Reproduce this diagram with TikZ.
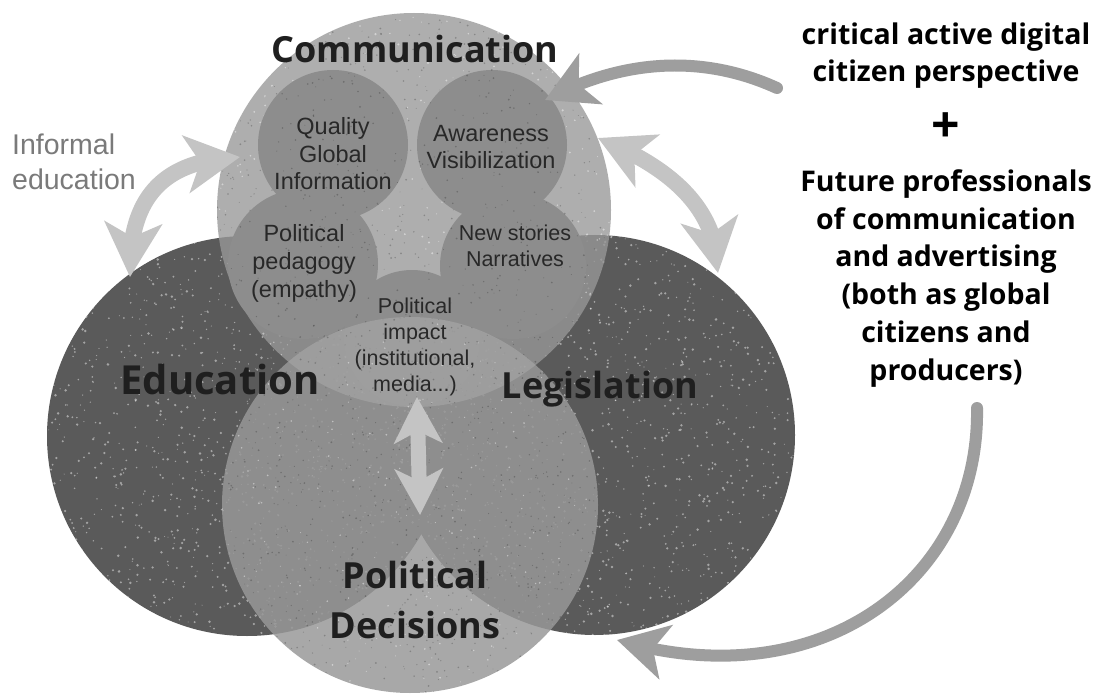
\documentclass[tikz,border=0pt]{standalone}
\usepackage{fontspec}
\setmainfont{Open Sans}
\newfontfamily\plainsans{Liberation Sans}
\usetikzlibrary{arrows.meta,bending}
\definecolor{discdark}{RGB}{90,90,90}
\definecolor{disclight}{RGB}{152,152,152}
\definecolor{discmid}{RGB}{141,141,141}
\definecolor{arrowpale}{RGB}{196,196,196}
\definecolor{arrowgrey}{RGB}{158,158,158}
\definecolor{textgrey}{RGB}{122,122,122}
\definecolor{inktext}{RGB}{40,40,40}

\tikzset{
  bigword/.style={font=\fontsize{36}{50}\selectfont\bfseries, text=black!88, align=center, anchor=base, inner sep=0pt},
  smallword/.style={font=\plainsans\fontsize{23.5}{27.5}\selectfont, text=inktext, align=center, anchor=base, inner sep=0pt},
  tinyword/.style={smallword, font=\plainsans\fontsize{21.5}{26}\selectfont},
  sideword/.style={font=\fontsize{28.5}{37.7}\selectfont\bfseries, align=center, anchor=base, inner sep=0pt},
  speck/.style={white, opacity=0.45},
  grain/.style={black, opacity=0.22},
  paleflow/.style={arrowpale, line width=16pt, {Stealth[length=54pt,width=57pt,inset=14pt]}-{Stealth[length=54pt,width=57pt,inset=14pt]}},
  midflow/.style={arrowpale, line width=15pt, {Stealth[length=46pt,width=48pt,inset=12pt]}-{Stealth[length=46pt,width=48pt,inset=12pt]}},
  loopflow/.style={arrowgrey, line width=12pt, line cap=round, -{Stealth[length=50pt,width=55pt,inset=13pt]}},
}

\begin{document}
\begin{tikzpicture}[x=1pt,y=-1pt]
    \pgfmathsetseed{4242}
    \fill[white] (0,0) rectangle (1095,695);
    \useasboundingbox (0,0) rectangle (1095,695);

    % Education and Legislation discs
    \fill[discdark] (247,436) circle (200);
    \fill[discdark] (595,435) circle (200);
    \begin{scope}
        \clip (247,436) circle (200);
        \foreach \k in {1,...,1300}
            \fill[speck] ({247+200*rand},{436+200*rand}) circle ({0.5+0.9*rnd});
    \end{scope}
    \begin{scope}
        \clip (595,435) circle (200);
        \foreach \k in {1,...,1300}
            \fill[speck] ({595+200*rand},{435+200*rand}) circle ({0.5+0.9*rnd});
    \end{scope}

    % Communication disc
    \fill[disclight, fill opacity=0.78] (414,210) circle (197);
    \begin{scope}
        \clip (414,210) circle (197);
        \foreach \k in {1,...,500}
            \fill[speck] ({414+197*rand},{210+197*rand}) circle ({0.5+0.7*rnd});
    \end{scope}

    % inner discs of communication
    \fill[discmid] (333,145) circle (75);
    \fill[discmid] (492,145) circle (75);
    \fill[discmid] (303,264) circle (75);
    \fill[discmid] (513,266) circle (73);
    \fill[discmid] (412,338) circle (68);
    \begin{scope}
        \clip (414,210) circle (197);
        \foreach \k in {1,...,700}
            \fill[grain] ({414+197*rand},{210+197*rand}) circle ({0.4+0.6*rnd});
    \end{scope}

    % Political decisions disc
    \fill[disclight, fill opacity=0.84] (410,505) circle (188);
    \begin{scope}
        \clip (414,210) circle (197);
        \fill[white, opacity=0.08] (410,505) circle (188);
    \end{scope}
    \begin{scope}
        \clip (410,505) circle (188);
        \foreach \k in {1,...,900}
            \fill[grain] ({410+188*rand},{505+188*rand}) circle ({0.4+0.6*rnd});
        \foreach \k in {1,...,300}
            \fill[speck] ({410+188*rand},{505+188*rand}) circle ({0.4+0.6*rnd});
    \end{scope}

    % arrow ends
    \coordinate (infA) at (130,277);
    \coordinate (infB) at (240,157);
    \coordinate (legA) at (598,138);
    \coordinate (legB) at (718,273);
    \coordinate (midA) at (417,397);
    \coordinate (midB) at (420,515);
    \coordinate (topTail) at (777,88);
    \coordinate (topTip) at (545,100);
    \coordinate (lowTail) at (977,408);
    \coordinate (lowTip) at (617,640);

    % Arrows
    \draw[paleflow] (infA) .. controls (128,190) and (170,160) .. (infB);
    \draw[paleflow] (legA) .. controls (665,165) and (718,205) .. (legB);
    \draw[midflow] (midA) -- (midB);
    \draw[loopflow] (topTail) .. controls (720,62) and (640,50) .. (topTip);
    \draw[loopflow] (lowTail) .. controls (980,580) and (820,700) .. (lowTip);

    % Disc titles (base = last line)
    \node[bigword] (comm) at (415,63) {Communication};
    \node[bigword, font=\fontsize{40}{50}\selectfont\bfseries] (edu) at (220,394) {Education};
    \node[bigword] (legis) at (600,398) {Legislation};
    \node[bigword] (decide) at (415,638) {Political\\Decisions};

    % inner labels
    \node[smallword] (quality) at (333,190) {Quality\\Global\\Information};
    \node[smallword] (aware) at (491,169) {Awareness\\Visibilization};
    \node[smallword] (pedagogy) at (304,297) {Political\\pedagogy\\(empathy)};
    \node[tinyword] (stories) at (515,266) {New stories\\Narratives};
    \node[tinyword] (impact) at (415,391) {Political\\impact\\(institutional,\\media...)};

    \node[font=\plainsans\fontsize{28.5}{35}\selectfont, text=textgrey, align=left, anchor=base west, inner sep=0pt] (informal) at (12,190) {Informal\\education};

    % side text
    \node[sideword] (citizen) at (946,82) {critical active digital\\citizen perspective};
    \node[font=\fontsize{50}{50}\selectfont\bfseries, inner sep=0pt] (plus) at (946,128) {+};
    \node[sideword] (future) at (946,380) {Future professionals\\of communication\\and advertising\\(both as global\\citizens and\\producers)};
\end{tikzpicture}
\end{document}
